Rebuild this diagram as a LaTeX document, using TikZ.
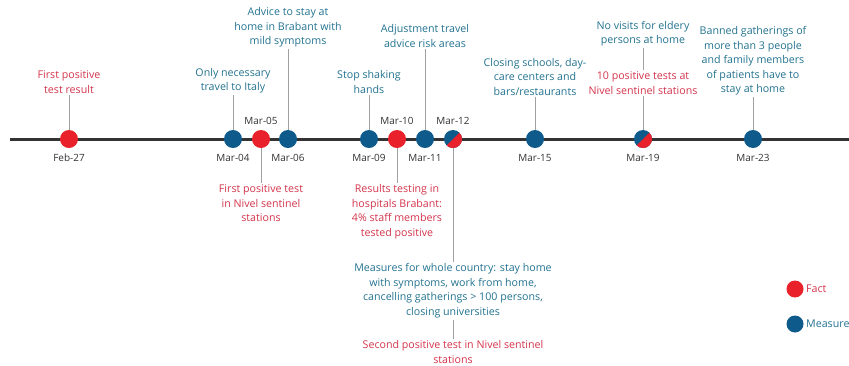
\documentclass[tikz,border=0pt]{standalone}
\usepackage{fontspec}
\setmainfont{Open Sans}
\definecolor{factc}{HTML}{E8212B}
\definecolor{measc}{HTML}{0E5A8A}
\definecolor{facttxt}{HTML}{D3344B}
\definecolor{meastxt}{HTML}{22728F}
\definecolor{axisc}{HTML}{333333}
\definecolor{connc}{HTML}{A0A0A0}
\tikzset{
  dotbase/.style={circle, minimum size=18bp, inner sep=0pt},
  fdot/.style={dotbase, fill=factc},
  mdot/.style={dotbase, fill=measc},
  hdot/.style={dotbase, fill=measc, path picture={\fill[factc] (path picture bounding box.north east) -- (path picture bounding box.south west) -- (path picture bounding box.south east) -- cycle;}},
  txtbase/.style={align=center, font=\fontsize{10.7}{14.6}\selectfont, inner sep=1.5bp},
  ftext/.style={txtbase, text=facttxt},
  mtext/.style={txtbase, text=meastxt},
  datel/.style={font=\fontsize{10}{11}\selectfont, text=axisc, inner sep=0pt},
  conn/.style={draw=connc, line width=1bp},
}
\begin{document}
\begin{tikzpicture}[x=1bp,y=-1bp]
\useasboundingbox (0,0) rectangle (849,365);
% axis
\coordinate (axl) at (10,139);
\coordinate (axr) at (849,139);
\draw[axisc, line width=3bp] (axl) -- (axr);

% dots
\node[fdot] (d27) at (69,139) {};
\node[mdot] (d04) at (233,139) {};
\node[fdot] (d05) at (261,139) {};
\node[mdot] (d06) at (288,139) {};
\node[mdot] (d09) at (369,139) {};
\node[fdot] (d10) at (397,139) {};
\node[mdot] (d11) at (425,139) {};
\node[hdot] (d12) at (453,139) {};
\node[mdot] (d15) at (535,139) {};
\node[hdot] (d19) at (643,139) {};
\node[mdot] (d23) at (753,139) {};

% date labels
\node[datel] (l27) at (69,158) {Feb-27};
\node[datel] (l04) at (233,158) {Mar-04};
\node[datel] (l05) at (261,121) {Mar-05};
\node[datel] (l06) at (288,158) {Mar-06};
\node[datel] (l09) at (369,158) {Mar-09};
\node[datel] (l10) at (397,121) {Mar-10};
\node[datel] (l11) at (425,158) {Mar-11};
\node[datel] (l12) at (453,121) {Mar-12};
\node[datel] (l15) at (535,158) {Mar-15};
\node[datel] (l19) at (643,158) {Mar-19};
\node[datel] (l23) at (753,158) {Mar-23};

% upper texts
\node[ftext, anchor=south] (t27) at (69,95) {First positive\\test result};
\node[mtext, anchor=south] (t04) at (233,95) {Only necessary\\travel to Italy};
\node[mtext, anchor=south] (t06) at (288,49) {Advice to stay at\\home in Brabant with\\mild symptoms};
\node[mtext, anchor=south] (t09) at (369,95) {Stop shaking\\hands};
\node[mtext, anchor=south] (t11) at (425,49) {Adjustment travel\\advice risk areas};
\node[mtext, anchor=south] (t15) at (535,97) {Closing schools, day-\\care centers and\\bars/restaurants};
\node[mtext, anchor=south] (t19a) at (643,48) {No visits for eldery\\persons at home};
\node[ftext, anchor=south] (t19b) at (643,96) {10 positive tests at\\Nivel sentinel stations};
\node[mtext, anchor=south] (t23) at (753,97) {Banned gatherings of\\more than 3 people\\and family members\\of patients have to\\stay at home};

% lower texts
\node[ftext, anchor=north] (t05) at (261,183) {First positive test\\in Nivel sentinel\\stations};
\node[ftext, anchor=north] (t10) at (397,183) {Results testing in\\hospitals Brabant:\\4\% staff members\\tested positive};
\node[mtext, anchor=north] (t12a) at (453,262) {Measures for whole country: stay home\\with symptoms, work from home,\\cancelling gatherings > 100 persons,\\closing universities};
\node[ftext, anchor=north] (t12b) at (453,339) {Second positive test in Nivel sentinel\\stations};

% connectors
\draw[conn] (t27) -- (d27);
\draw[conn] (t04) -- (d04);
\draw[conn] (t06) -- (d06);
\draw[conn] (t09) -- (d09);
\draw[conn] (t11) -- (d11);
\draw[conn] (t15) -- (d15);
\draw[conn] (t19a) -- (t19b);
\draw[conn] (t19b) -- (d19);
\draw[conn] (t23) -- (d23);
\draw[conn] (d05) -- (t05);
\draw[conn] (d10) -- (t10);
\draw[conn] (d12) -- (t12a);
\draw[conn] (t12a) -- (t12b);

% legend
\node[fdot, minimum size=17bp] (lgf) at (795,289) {};
\node[mdot, minimum size=17bp] (lgm) at (795,324) {};
\node[txtbase, text=facttxt, anchor=west, inner sep=0pt] (lgft) at (806,289) {Fact};
\node[txtbase, text=meastxt, anchor=west, inner sep=0pt] (lgmt) at (806,324) {Measure};
\end{tikzpicture}
\end{document}
